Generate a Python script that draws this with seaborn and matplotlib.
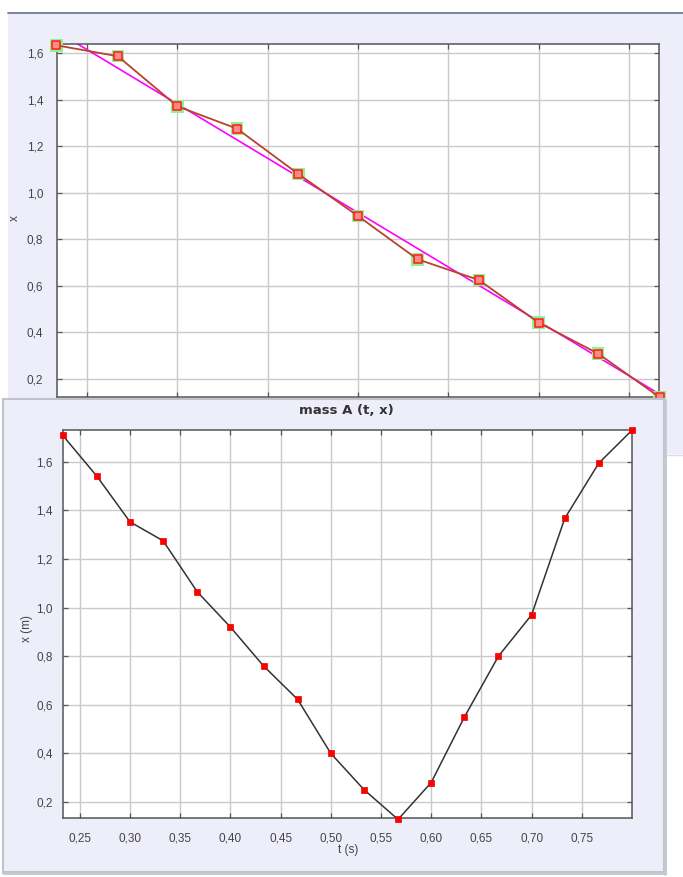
import matplotlib
matplotlib.use("Agg")
import matplotlib.pyplot as plt
from matplotlib.patches import Rectangle
from matplotlib.lines import Line2D
from matplotlib.ticker import FixedLocator, FuncFormatter
import pandas as pd
import seaborn as sns

# ---- data -------------------------------------------------------------
# upper plot: fitted run (time in s, position x)
t_fit = [0.233, 0.267, 0.300, 0.333, 0.367, 0.400, 0.433, 0.467, 0.500, 0.533, 0.567]
x_fit = [1.633, 1.586, 1.371, 1.275, 1.080, 0.900, 0.714, 0.625, 0.442, 0.309, 0.122]

# lower plot: mass A, full run
t_mass = [0.233, 0.267, 0.300, 0.333, 0.367, 0.400, 0.433, 0.467, 0.500,
          0.533, 0.567, 0.600, 0.633, 0.667, 0.700, 0.733, 0.767, 0.800]
x_mass = [1.709, 1.541, 1.353, 1.275, 1.065, 0.920, 0.760, 0.622, 0.400,
          0.251, 0.128, 0.280, 0.549, 0.800, 0.970, 1.367, 1.595, 1.730]

y_ticks = [0.2, 0.4, 0.6, 0.8, 1.0, 1.2, 1.4, 1.6]
t_ticks_fit = [0.25, 0.30, 0.35, 0.40, 0.45, 0.50, 0.55]
t_ticks_mass = [0.25, 0.30, 0.35, 0.40, 0.45, 0.50, 0.55, 0.60, 0.65, 0.70, 0.75]

title_mass = "mass A (t, x)"
ylabel_fit = "x"
ylabel_mass = "x (m)"
xlabel_mass = "t (s)"

# ---- style ------------------------------------------------------------
sns.set_style("white")
plt.rcParams["font.family"] = ["Liberation Sans Narrow", "Liberation Sans", "DejaVu Sans"]

W, H = 683, 877
LAV = "#eeeefb"
SPINE = "#555555"
GRID = "#cacaca"
TXT = "#444444"

fig = plt.figure(figsize=(W / 100, H / 100), dpi=100)
fig.patch.set_facecolor("white")


def box(l, t, r, b):
    return [l / W, 1 - b / H, (r - l) / W, (b - t) / H]


def fx(px):
    return px / W


def fy(py):
    return 1 - py / H


comma1 = FuncFormatter(lambda v, p: f"{v:.1f}".replace(".", ","))
comma2 = FuncFormatter(lambda v, p: f"{v:.2f}".replace(".", ","))


def style_axes(ax, xt, label_x):
    ax.set_facecolor("white")
    ax.xaxis.set_major_locator(FixedLocator(xt))
    ax.yaxis.set_major_locator(FixedLocator(y_ticks))
    ax.xaxis.set_major_formatter(comma2)
    ax.yaxis.set_major_formatter(comma1)
    ax.grid(True, color=GRID, lw=1.0, zorder=0)
    ax.set_axisbelow(True)
    for s in ax.spines.values():
        s.set_color(SPINE)
        s.set_linewidth(1.1)
        s.set_visible(True)
    ax.tick_params(direction="in", length=3.5, width=0.9, color=SPINE,
                   top=True, right=True, bottom=True, left=True,
                   labelsize=8.5, labelcolor=TXT)
    ax.tick_params(axis="y", pad=7.5)
    ax.tick_params(axis="x", pad=10.5, labelbottom=label_x)
    ax.set_xlabel("")
    ax.set_ylabel("")


# ---- upper panel background ------------------------------------------
fig.add_artist(Rectangle((fx(8), fy(454)), fx(683) - fx(8), fy(13) - fy(454),
                         transform=fig.transFigure, facecolor=LAV,
                         edgecolor="none", zorder=0))
fig.add_artist(Line2D([fx(8), 1], [fy(13), fy(13)], transform=fig.transFigure,
                      color="#6e7d8f", lw=1.3, zorder=0.5))
fig.add_artist(Line2D([fx(665), 1], [fy(455), fy(455)], transform=fig.transFigure,
                      color="#dcdce4", lw=1.0, zorder=0.5))

# ---- upper panel plot -------------------------------------------------
ax1 = fig.add_axes(box(57, 44, 659, 397), zorder=1)
ax1.set_xlim(0.2333, 0.5667)
ax1.set_ylim(0.1227, 1.6386)
df_fit = pd.DataFrame({"t": t_fit, "x": x_fit})

sns.regplot(data=df_fit, x="t", y="x", ax=ax1, scatter=False, ci=None,
            truncate=False, line_kws=dict(color="#ff00ff", lw=1.2, zorder=2))
sns.scatterplot(data=df_fit, x="t", y="x", ax=ax1, marker="s", s=80,
                color="#8ef28e", edgecolor="none", alpha=1.0, zorder=3, clip_on=False)
sns.lineplot(data=df_fit, x="t", y="x", ax=ax1, sort=False, estimator=None,
             color="#b8422e", lw=1.3, zorder=4)
sns.scatterplot(data=df_fit, x="t", y="x", ax=ax1, marker="s", s=30,
                facecolor="#ff8a8a", edgecolor="#ff1a1a", linewidth=1.1,
                zorder=5, clip_on=False)
ax1.set_xlim(0.2333, 0.5667)
ax1.set_ylim(0.1227, 1.6386)
style_axes(ax1, t_ticks_fit, False)
ax1.tick_params(axis="y", pad=10)

fig.text(fx(15), fy(218), ylabel_fit, rotation=90, ha="center", va="center",
         fontsize=8.5, color=TXT)

# ---- lower panel background -----------------------------------------
fig.add_artist(Rectangle((fx(3), fy(872)), fx(664) - fx(3), fy(399) - fy(872),
                         transform=fig.transFigure, facecolor=LAV,
                         edgecolor="#bfc3cc", lw=1.5, zorder=2))
fig.add_artist(Line2D([fx(665), fx(665)], [fy(400), fy(874)], transform=fig.transFigure,
                      color="#c4c8d0", lw=2.0, zorder=2.1))
fig.add_artist(Line2D([fx(3), fx(665)], [fy(873), fy(873)], transform=fig.transFigure,
                      color="#c4c8d0", lw=2.0, zorder=2.1))

# ---- lower panel plot -------------------------------------------------
ax2 = fig.add_axes(box(63, 430, 632, 818), zorder=3)
df_mass = pd.DataFrame({"t": t_mass, "x": x_mass})
sns.lineplot(data=df_mass, x="t", y="x", ax=ax2, sort=False, estimator=None,
             color="#333333", lw=1.1, marker="s", markersize=4.8,
             markerfacecolor="#ff0000", markeredgecolor="#ee0000",
             markeredgewidth=0.5, zorder=3, clip_on=False)
ax2.set_xlim(0.2333, 0.8)
ax2.set_ylim(0.134, 1.731)
style_axes(ax2, t_ticks_mass, True)

fig.text(fx(346), fy(411), title_mass, ha="center", va="center", fontsize=9.5,
         fontweight="bold", color="#333333", family="DejaVu Sans", zorder=4)
fig.text(fx(27), fy(628), ylabel_mass, rotation=90, ha="center", va="center",
         fontsize=8.5, color=TXT, zorder=4)
fig.text(fx(348), fy(850), xlabel_mass, ha="center", va="center",
         fontsize=8.5, color=TXT, zorder=4)

fig.savefig("out.png", dpi=100, facecolor="white")
